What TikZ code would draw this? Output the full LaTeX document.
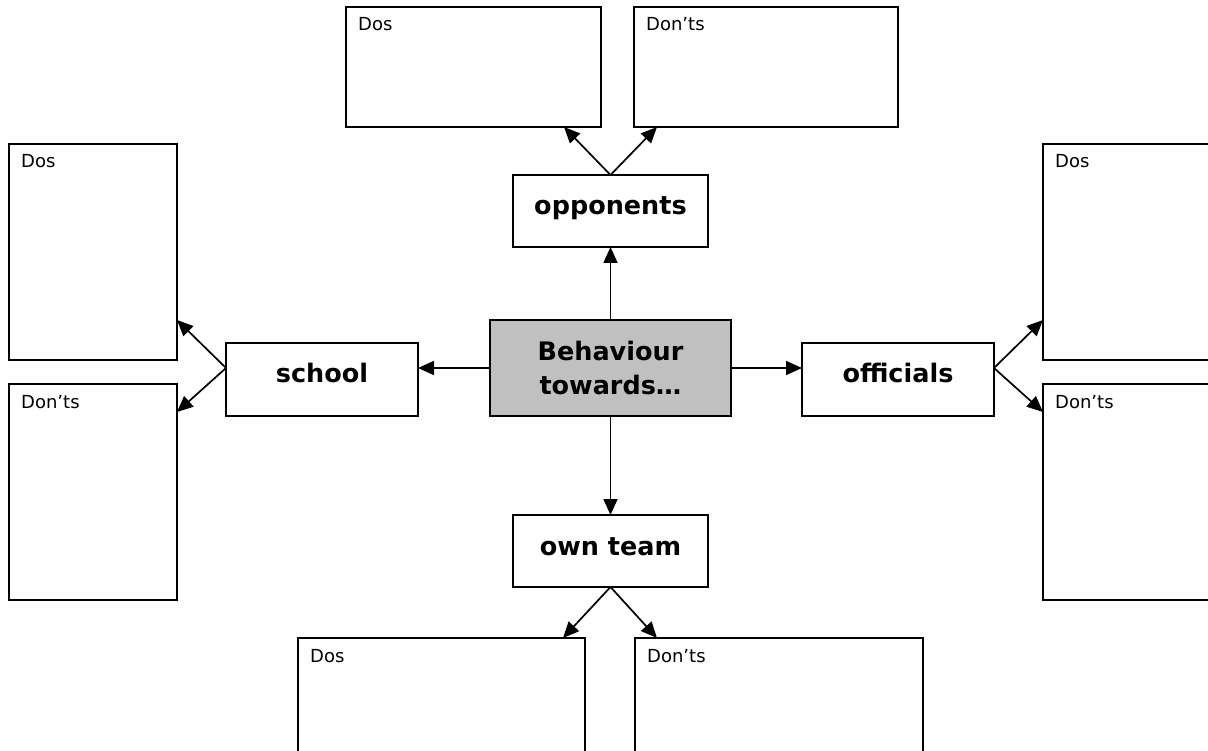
\documentclass[tikz,border=0pt]{standalone}
\usepackage{fontspec}
\setmainfont{DejaVu Sans}
\usetikzlibrary{arrows.meta}
\definecolor{boxgray}{RGB}{192,192,192}
\begin{document}
\begin{tikzpicture}[x=1pt,y=-1pt,
  box/.style={draw=black, line width=2pt, fill=white, anchor=north west, inner sep=0pt, outer sep=0pt},
  hubbox/.style={box, fill=boxgray},
  lbl/.style={anchor=base west, inner sep=0pt, font=\fontsize{18}{20}\selectfont},
  btxt/.style={anchor=base, inner sep=0pt, font=\bfseries\fontsize{25.5}{34}\selectfont},
  arr/.style={line width=1.7pt, -{Triangle[length=16pt,width=14pt]}}]
\useasboundingbox (0,0) rectangle (1208,751);
\clip (0,0) rectangle (1208,751);

% boxes
\node[box, minimum width=255pt, minimum height=120pt] (tdos) at (346,7) {};
\node[box, minimum width=264pt, minimum height=120pt] (tdont) at (634,7) {};
\node[box, minimum width=195pt, minimum height=72pt] (opp) at (513,175) {};
\node[hubbox, minimum width=241pt, minimum height=96pt] (hub) at (490,320) {};
\node[box, minimum width=192pt, minimum height=73pt] (school) at (226,343) {};
\node[box, minimum width=192pt, minimum height=73pt] (offi) at (802,343) {};
\node[box, minimum width=195pt, minimum height=72pt] (own) at (513,515) {};
\node[box, minimum width=168pt, minimum height=216pt] (ldos) at (9,144) {};
\node[box, minimum width=168pt, minimum height=216pt] (ldont) at (9,384) {};
\node[box, minimum width=200pt, minimum height=216pt] (rdos) at (1043,144) {};
\node[box, minimum width=200pt, minimum height=216pt] (rdont) at (1043,384) {};
\node[box, minimum width=287pt, minimum height=150pt] (bdos) at (298,638) {};
\node[box, minimum width=288pt, minimum height=150pt] (bdont) at (635,638) {};

% small labels
\node[lbl] (tdosl) at ([xshift=12pt,yshift=-24pt]tdos.north west) {Dos};
\node[lbl] (tdontl) at ([xshift=12pt,yshift=-24pt]tdont.north west) {Don’ts};
\node[lbl] (ldosl) at ([xshift=12pt,yshift=-24pt]ldos.north west) {Dos};
\node[lbl] (ldontl) at ([xshift=12pt,yshift=-24pt]ldont.north west) {Don’ts};
\node[lbl] (rdosl) at ([xshift=12pt,yshift=-24pt]rdos.north west) {Dos};
\node[lbl] (rdontl) at ([xshift=12pt,yshift=-24pt]rdont.north west) {Don’ts};
\node[lbl] (bdosl) at ([xshift=12pt,yshift=-24pt]bdos.north west) {Dos};
\node[lbl] (bdontl) at ([xshift=12pt,yshift=-24pt]bdont.north west) {Don’ts};

% main labels
\node[btxt] (oppt) at ([yshift=-40pt]opp.north) {opponents};
\node[btxt] (schoolt) at ([yshift=-39pt]school.north) {school};
\node[btxt] (offit) at ([yshift=-39pt]offi.north) {officials};
\node[btxt] (ownt) at ([yshift=-40pt]own.north) {own team};
\node[btxt, anchor=center, align=center] (hubt) at (hub.center) {Behaviour\\towards…};

% connectors
\draw[arr] (hub.north) -- (opp.south);
\draw[arr] (hub.south) -- (own.north);
\draw[arr] (hub.west) -- (hub.west -| school.east);
\draw[arr] (hub.east) -- (hub.east -| offi.west);

\coordinate (sj) at (hub.west -| school.west);
\coordinate (oj) at (hub.east -| offi.east);
\draw[arr] (sj) -- ([yshift=40pt]ldos.south east);
\draw[arr] (sj) -- ([yshift=-28pt]ldont.north east);
\draw[arr] (oj) -- ([yshift=40pt]rdos.south west);
\draw[arr] (oj) -- ([yshift=-28pt]rdont.north west);
\draw[arr] (opp.north) -- ([xshift=-37pt]tdos.south east);
\draw[arr] (opp.north) -- ([xshift=23pt]tdont.south west);
\draw[arr] (own.south) -- ([xshift=-22pt]bdos.north east);
\draw[arr] (own.south) -- ([xshift=22pt]bdont.north west);
\end{tikzpicture}
\end{document}
